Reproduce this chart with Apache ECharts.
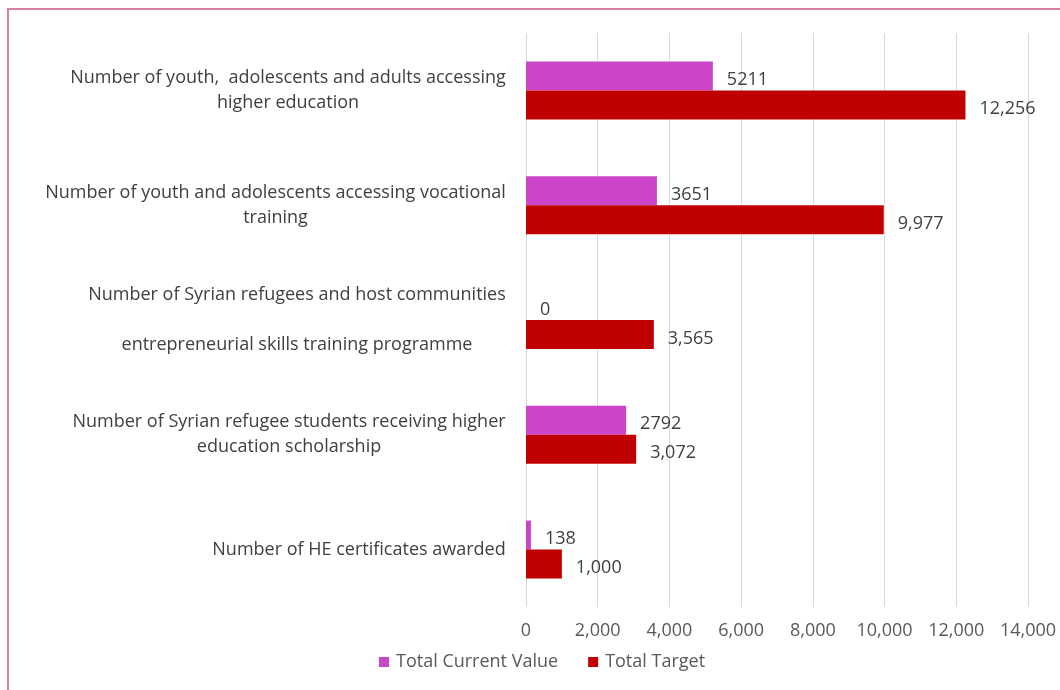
<!DOCTYPE html>
<html>
<head>
<meta charset="utf-8">
<script src="https://cdn.jsdelivr.net/npm/echarts@6/dist/echarts.min.js"></script>
<style>
  html, body { margin: 0; padding: 0; background: #fff; }
  #chart { width: 1060px; height: 690px; }
</style>
</head>
<body>
<div id="chart"></div>
<script>
// data
var categories = [
    'Number of youth,  adolescents and adults accessing\nhigher education',
    'Number of youth and adolescents accessing vocational\ntraining',
    'Number of Syrian refugees and host communities\n\nentrepreneurial skills training programme',
    'Number of Syrian refugee students receiving higher\neducation scholarship',
    'Number of HE certificates awarded'
];
var currentValues = [5211, 3651, 0, 2792, 138];
var targetValues = [12256, 9977, 3565, 3072, 1000];
var xTicks = [0, 2000, 4000, 6000, 8000, 10000, 12000, 14000];

var FONT = '"Open Sans", sans-serif';
var FS = 18;

// measure widest line of each label so lines can be centered in the block
var ctx = document.createElement('canvas').getContext('2d');
ctx.font = FS + 'px "Open Sans"';
var rich = {};
categories.forEach(function (c, i) {
    var w = 0;
    c.split('\n').forEach(function (l) {
        w = Math.max(w, ctx.measureText(l).width);
    });
    rich['b' + i] = {
        width: Math.ceil(w),
        align: 'center',
        fontSize: FS,
        fontFamily: FONT,
        color: '#404040',
        lineHeight: 25
    };
});

function initEcharts() {
    var myChart = echarts.init(document.getElementById('chart'));

    var option = {
        animation: false,
        textStyle: { fontFamily: FONT },
        graphic: [{
            type: 'rect',
            shape: { x: 8, y: 9, width: 1200, height: 800 },
            style: { fill: 'none', stroke: '#d9809a', lineWidth: 2 },
            silent: true
        }],
        grid: {
            left: 526,
            right: 32,
            top: 33,
            bottom: 83
        },
        legend: {
            bottom: 14,
            left: 374,
            itemWidth: 10,
            itemHeight: 10,
            itemGap: 30,
            icon: 'rect',
            textStyle: { fontSize: FS, color: '#595959', fontFamily: FONT, padding: [0, 0, 0, 2] },
            data: ['Total Current Value', 'Total Target']
        },
        xAxis: {
            type: 'value',
            min: xTicks[0],
            max: xTicks[xTicks.length - 1],
            interval: xTicks[1] - xTicks[0],
            axisLine: { show: false },
            axisTick: { show: false },
            splitLine: { lineStyle: { color: '#d9d9d9', width: 1 } },
            axisLabel: {
                fontSize: FS,
                color: '#595959',
                fontFamily: FONT,
                margin: 15,
                formatter: function (v) {
                    return v.toLocaleString('en-US');
                }
            }
        },
        yAxis: {
            type: 'category',
            inverse: true,
            data: categories,
            axisLine: { show: false },
            axisTick: { show: false },
            axisLabel: {
                margin: 20,
                rich: rich,
                formatter: function (value, index) {
                    return value.split('\n').map(function (l) {
                        return '{b' + index + '|' + (l || ' ') + '}';
                    }).join('\n');
                }
            }
        },
        series: [{
            name: 'Total Current Value',
            type: 'bar',
            data: currentValues,
            barWidth: 29,
            barGap: '0%',
            itemStyle: { color: '#cc44c8' },
            label: {
                show: true,
                position: 'right',
                distance: 14,
                offset: [0, 4],
                fontSize: FS,
                color: '#404040',
                fontFamily: FONT
            }
        }, {
            name: 'Total Target',
            type: 'bar',
            data: targetValues,
            barWidth: 29,
            barGap: '0%',
            itemStyle: { color: '#c00000' },
            label: {
                show: true,
                position: 'right',
                distance: 14,
                offset: [0, 4],
                fontSize: FS,
                color: '#404040',
                fontFamily: FONT,
                formatter: function (p) {
                    return p.value.toLocaleString('en-US');
                }
            }
        }]
    };

    myChart.setOption(option);
}

initEcharts();
</script>
</body>
</html>
